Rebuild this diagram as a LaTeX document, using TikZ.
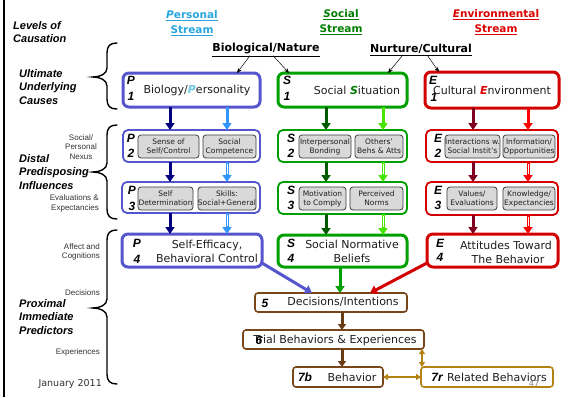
\documentclass[tikz,border=0pt]{standalone}
\usepackage{fontspec}
\setmainfont{DejaVu Sans}
\newfontfamily\arialf{Liberation Sans}
\usetikzlibrary{arrows.meta,calc}

\definecolor{pframe}{RGB}{85,85,205}
\definecolor{phead}{RGB}{40,165,220}
\definecolor{pletter}{RGB}{110,200,225}
\definecolor{navyc}{RGB}{0,0,128}
\definecolor{lblue}{RGB}{50,150,255}
\definecolor{sframe}{RGB}{0,160,0}
\definecolor{shead}{RGB}{0,125,0}
\definecolor{dgreen}{RGB}{0,90,0}
\definecolor{limec}{RGB}{70,230,0}
\definecolor{eframe}{RGB}{210,0,0}
\definecolor{ehead}{RGB}{220,0,0}
\definecolor{maroonc}{RGB}{128,0,32}
\definecolor{bred}{RGB}{255,0,0}
\definecolor{brownc}{RGB}{120,70,25}
\definecolor{brarrow}{RGB}{105,60,20}
\definecolor{goldc}{RGB}{180,130,20}
\definecolor{gfill}{RGB}{217,217,217}
\definecolor{gline}{RGB}{60,60,60}
\definecolor{txt}{RGB}{30,30,30}
\definecolor{smalltxt}{RGB}{50,50,50}

% box from corner (x1,y1) to (x2,y2) with optional text
\newcommand{\bx}[7][]{\node[#1, inner sep=0pt, outer sep=0pt,
  minimum width={(#5-#3)*1pt}, minimum height={(#6-#4)*1pt}]
  (#2) at ({(#3+#5)/2},{(#4+#6)/2}) {#7};}
% light arrow with a white core
\newcommand{\hollowarrow}[3]{%
  \draw[sarrow, #1] #2 -- #3;
  \draw[white, line width=1pt, shorten >=8pt, shorten <=1.5pt] #2 -- #3;}
% left curly brace: top y, tip y, bottom y
\newcommand{\levelbrace}[3]{%
  \draw[line width=1.4pt, line cap=round] (117,#1) .. controls (110,#1) and (107,{#1+3}) .. (107,{#1+10})
    -- (107,{#2-9}) .. controls (107,{#2-3}) and (100,#2) .. (93,#2)
    .. controls (100,#2) and (107,{#2+3}) .. (107,{#2+9})
    -- (107,{#3-10}) .. controls (107,{#3-3}) and (110,#3) .. (117,#3);}

\begin{document}
\begin{tikzpicture}[x=1pt,y=-1pt,
  tag/.style={font=\arialf\bfseries\itshape\fontsize{12}{12}\selectfont, inner sep=0pt, text=black},
  mtext/.style={font=\fontsize{11}{14}\selectfont, inner sep=0pt, text=txt, align=center},
  gbox/.style={draw=gline, fill=gfill, rounded corners=3pt, line width=0.8pt,
    font=\fontsize{7.5}{9}\selectfont, align=center, text=txt},
  bigbox/.style={line width=3pt, rounded corners=6pt, fill=white},
  midbox/.style={line width=1.8pt, rounded corners=5pt, fill=white},
  brbox/.style={draw=brownc, line width=1.6pt, rounded corners=3pt, fill=white},
  gdbox/.style={draw=goldc, line width=1.6pt, rounded corners=3pt, fill=white},
  sarrow/.style={line width=3pt, -{Triangle[width=9pt,length=7pt]}},
  barrow/.style={line width=3pt, brarrow, -{Triangle[width=8pt,length=6pt]}},
  garrow/.style={line width=2pt, goldc, {Triangle[width=6pt,length=5pt]}-{Triangle[width=6pt,length=5pt]}},
  thinarrow/.style={line width=0.5pt, -{Stealth[width=4pt,length=5pt]}},
  lvl/.style={font=\arialf\bfseries\itshape\fontsize{11}{13.5}\selectfont, inner sep=0pt, align=left, anchor=west},
  small/.style={font=\arialf\fontsize{8}{9.5}\selectfont, inner sep=0pt, text=smalltxt},
  headtext/.style={font=\bfseries\fontsize{10.5}{15}\selectfont, inner sep=0pt, align=center}
]
\useasboundingbox (0,0) rectangle (568,397);

% left rule
\draw[line width=2pt] (4,0) -- (4,397);

% stream headings
\node[headtext, text=phead] (hP) at (192,23) {\underline{\textit{P}ersonal}\\\underline{Stream}};
\node[headtext, text=shead] (hS) at (341,22) {\underline{\textit{S}ocial}\\\underline{Stream}};
\node[headtext, text=ehead] (hE) at (496,22) {\underline{\textit{E}nvironmental}\\\underline{Stream}};
\node[font=\bfseries\fontsize{11}{13}\selectfont, inner sep=0pt] (bio) at (266,50) {\underline{Biological/Nature}};
\node[font=\bfseries\fontsize{11}{13}\selectfont, inner sep=0pt] (nur) at (421,50) {\underline{Nurture/Cultural}};

% levels of causation
\node[lvl] (lev) at (13,32) {Levels of\\Causation};
\node[lvl] (ult) at (19,87) {Ultimate\\Underlying\\Causes};
\node[lvl] (dis) at (19,172) {Distal\\Predisposing\\Influences};
\node[lvl] (prox) at (19,317) {Proximal\\Immediate\\Predictors};
\levelbrace{43}{77}{109}
\levelbrace{125}{172}{219}
\levelbrace{230}{308}{384}

\node[small, align=center] (nexus) at (81,147) {Social/\\Personal\\Nexus};
\node[small, align=right, anchor=east] (evx) at (99,203.5) {Evaluations \&\\Expectancies};
\node[small, align=right, anchor=east] (aff) at (100,252) {Affect and\\Cognitions};
\node[small, anchor=east] (dec) at (100,293) {Decisions};
\node[small, anchor=east] (exp) at (100,352) {Experiences};
\node[font=\fontsize{9.5}{11}\selectfont, inner sep=0pt, anchor=east, text=smalltxt] (date) at (102,384) {January 2011};

% row 1
\bx[bigbox, draw=pframe]{P1}{123}{73}{260}{107}{}
\bx[bigbox, draw=sframe]{S1}{278}{73}{407}{107}{}
\bx[bigbox, draw=eframe]{E1}{425}{72}{559}{108}{}
\node[tag] (P1a) at (131,80) {P};
\node[tag] (P1b) at (131,96) {1};
\node[mtext] (P1x) at (197,90) {Biology/{\color{pletter}\bfseries\itshape P}ersonality};
\node[tag] (S1a) at (287,80) {S};
\node[tag] (S1b) at (287,96) {1};
\node[mtext] (S1x) at (357,90) {Social {\color{shead}\bfseries\itshape S}ituation};
\node[tag] (E1a) at (433,80) {E};
\node[tag] (E1b) at (434,97) {1};
\node[mtext] (E1x) at (492,90) {Cultural {\color{ehead}\bfseries\itshape E}nvironment};

% row 2
\bx[midbox, draw=pframe]{P2}{123}{130}{260}{162}{}
\bx[midbox, draw=sframe]{S2}{278}{130}{407}{162}{}
\bx[midbox, draw=eframe]{E2}{426}{130}{558}{162}{}
\node[tag] (P2a) at (131,138) {P};
\node[tag] (P2b) at (131,153) {2};
\bx[gbox]{P2l}{138}{135}{199}{158}{Sense of\\Self/Control}
\bx[gbox]{P2r}{203}{135}{256}{158}{Social\\Competence}
\node[tag] (S2a) at (291,138) {S};
\node[tag] (S2b) at (291,153) {2};
\bx[gbox]{S2l}{299}{135}{351}{158}{Interpersonal\\Bonding}
\bx[gbox]{S2r}{355}{135}{403}{158}{Others’\\Behs \& Atts}
\node[tag] (E2a) at (438,138) {E};
\node[tag] (E2b) at (438,153) {2};
\bx[gbox]{E2l}{447}{135}{498}{158}{Interactions w.\\Social Instit’s}
\bx[gbox]{E2r}{503}{135}{555}{158}{Information/\\Opportunities}

% row 3
\bx[midbox, draw=pframe]{P3}{122}{182}{260}{213}{}
\bx[midbox, draw=sframe]{S3}{278}{182}{407}{214}{}
\bx[midbox, draw=eframe]{E3}{426}{182}{558}{215}{}
\node[tag] (P3a) at (132,190) {P};
\node[tag] (P3b) at (132,206) {3};
\bx[gbox]{P3l}{138}{187}{193}{210}{Self\\Determination}
\bx[gbox]{P3r}{198}{187}{256}{210}{Skills:\\Social+General}
\node[tag] (S3a) at (291,190) {S};
\node[tag] (S3b) at (291,205) {3};
\bx[gbox]{S3l}{299}{187}{346}{210}{Motivation\\to Comply}
\bx[gbox]{S3r}{350}{187}{403}{210}{Perceived\\Norms}
\node[tag] (E3a) at (438,190) {E};
\node[tag] (E3b) at (438,205) {3};
\bx[gbox]{E3l}{447}{187}{497}{210}{Values/\\Evaluations}
\bx[gbox]{E3r}{503}{187}{555}{210}{Knowledge/\\Expectancies}

% row 4
\bx[bigbox, draw=pframe]{P4}{122}{234}{262}{267}{}
\bx[bigbox, draw=sframe]{S4}{278}{235}{407}{267}{}
\bx[bigbox, draw=eframe]{E4}{427}{234}{558}{267}{}
\node[tag] (P4a) at (137,243) {P};
\node[tag] (P4b) at (137,259) {4};
\node[mtext] (P4x) at (207,251.5) {Self-Efficacy,\\Behavioral Control};
\node[tag] (S4a) at (291,243) {S};
\node[tag] (S4b) at (291,258) {4};
\node[mtext] (S4x) at (352,251.5) {Social Normative\\Beliefs};
\node[tag] (E4a) at (440,243) {E};
\node[tag] (E4b) at (440,257) {4};
\node[mtext] (E4x) at (506,252) {Attitudes Toward\\\hspace*{4pt}The Behavior};

% proximal chain
\bx[brbox]{D5}{255}{293}{407}{312}{}
\node[tag] (D5a) at (265,303) {5};
\node[mtext] (D5x) at (343,302) {Decisions/Intentions};
\bx[brbox]{T6}{243}{330}{424}{349}{}
\node[mtext] (T6x) at (335,340) {Trial Behaviors \& Experiences};
\node[tag] (T6a) at (259,340) {6};
\bx[brbox]{B7}{293}{367}{383}{387}{}
\node[tag] (B7a) at (305,377) {7b};
\node[mtext] (B7x) at (352,377) {Behavior};
\bx[gdbox]{R7}{421}{367}{553}{387}{}
\node[tag] (R7a) at (437,377) {7r};
\node[mtext] (R7x) at (497,377) {Related Behaviors};
\node[font=\fontsize{8}{9}\selectfont, inner sep=0pt, text=gray] (pg) at (534,384) {47};

% origin arrows
\draw[thinarrow] ($(bio.south)+(-16,-1)$) -- ($(P1.north east)+(-23,0)$);
\draw[thinarrow] ($(bio.south)+(7,-1)$) -- ($(S1.north west)+(11,0)$);
\draw[thinarrow] ($(nur.south)+(-18,-1)$) -- ($(S1.north east)+(-19,0)$);
\draw[thinarrow] ($(nur.south)+(6,-1)$) -- ($(E1.north west)+(14,0)$);

% stream columns
\coordinate (cP1) at (170,0);
\coordinate (cP2) at (227,0);
\coordinate (cS1) at (326,0);
\coordinate (cS2) at (383,0);
\coordinate (cE1) at (473,0);
\coordinate (cE2) at (528,0);

\draw[sarrow, navyc] (cP1 |- P1.south) -- (cP1 |- P2.north);
\draw[sarrow, lblue] (cP2 |- P1.south) -- (cP2 |- P2.north);
\draw[sarrow, navyc] (cP1 |- P2.south) -- (cP1 |- P3.north);
\hollowarrow{lblue}{(cP2 |- P2.south)}{(cP2 |- P3.north)}
\draw[sarrow, navyc] (cP1 |- P3.south) -- (cP1 |- P4.north);
\hollowarrow{lblue}{(cP2 |- P3.south)}{(cP2 |- P4.north)}

\draw[sarrow, dgreen] (cS1 |- S1.south) -- (cS1 |- S2.north);
\draw[sarrow, limec] (cS2 |- S1.south) -- (cS2 |- S2.north);
\draw[sarrow, dgreen] (cS1 |- S2.south) -- (cS1 |- S3.north);
\hollowarrow{limec}{(cS2 |- S2.south)}{(cS2 |- S3.north)}
\draw[sarrow, dgreen] (cS1 |- S3.south) -- (cS1 |- S4.north);
\hollowarrow{limec}{(cS2 |- S3.south)}{(cS2 |- S4.north)}

\draw[sarrow, maroonc] (cE1 |- E1.south) -- (cE1 |- E2.north);
\draw[sarrow, bred] (cE2 |- E1.south) -- (cE2 |- E2.north);
\draw[sarrow, maroonc] (cE1 |- E2.south) -- (cE1 |- E3.north);
\hollowarrow{bred}{(cE2 |- E2.south)}{(cE2 |- E3.north)}
\draw[sarrow, maroonc] (cE1 |- E3.south) -- (cE1 |- E4.north);
\hollowarrow{bred}{(cE2 |- E3.south)}{(cE2 |- E4.north)}

% into decisions
\draw[sarrow, pframe] ($(P4.south east)+(0,-4)$) -- ($(D5.north west)+(57,0)$);
\draw[sarrow, sframe] (S4.south -| 340,0) -- (D5.north -| 340,0);
\draw[sarrow, eframe] ($(E4.south west)+(0,-4)$) -- ($(D5.north west)+(115,0)$);

% proximal arrows
\coordinate (cB) at (342,0);
\draw[barrow] (cB |- D5.south) -- (cB |- T6.north);
\draw[barrow] (cB |- T6.south) -- (cB |- B7.north);
\coordinate (cG) at (422,0);
\draw[garrow] (cG |- T6.south) -- (cG |- R7.north);
\draw[garrow] (B7.east) -- (R7.west);
\end{tikzpicture}
\end{document}
